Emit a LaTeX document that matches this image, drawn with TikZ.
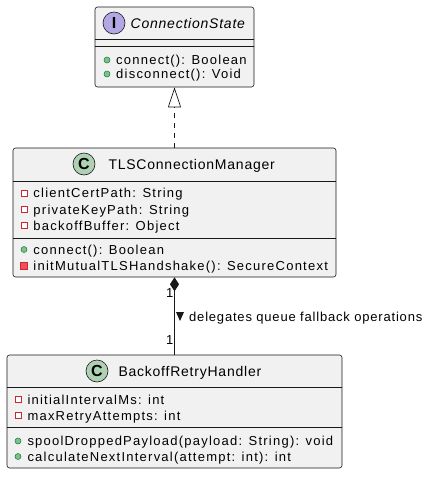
\documentclass[tikz,border=0pt]{standalone}
\usepackage{fontspec}
\setmainfont{Liberation Sans}
\newfontfamily\txtfont[LetterSpace=9.5]{Liberation Sans}
\newfontfamily\ttlfont[LetterSpace=5.5]{Liberation Sans}
\newfontfamily\lblfont[LetterSpace=6.2]{Liberation Sans}
\usetikzlibrary{arrows.meta}
\definecolor{boxfill}{HTML}{F1F1F1}
\definecolor{boxline}{HTML}{181818}
\definecolor{cfill}{HTML}{ADD1B2}
\definecolor{ifill}{HTML}{B4A7E5}
\definecolor{pubfill}{HTML}{84BE84}
\definecolor{publine}{HTML}{038048}
\definecolor{privline}{HTML}{C82930}
\definecolor{privfill}{HTML}{F24D5C}
\tikzset{
  umlbox/.style={draw=boxline, fill=boxfill, line width=0.6pt, rounded corners=2.5pt, inner sep=0pt},
  sepline/.style={draw=boxline, line width=0.6pt},
  txt/.style={anchor=base west, inner sep=0pt, font=\txtfont\fontsize{13}{15}\selectfont},
  lbl/.style={anchor=base west, inner sep=0pt, font=\lblfont\fontsize{13}{15}\selectfont},
  title/.style={anchor=base west, inner sep=0pt, font=\ttlfont\fontsize{14}{16}\selectfont},
  badge/.style={circle, draw=boxline, line width=0.6pt, minimum size=22pt, inner sep=0pt, font=\fontsize{16}{16}\selectfont\bfseries},
  pub/.style={circle, draw=publine, fill=pubfill, line width=0.5pt, minimum size=6pt, inner sep=0pt},
  privf/.style={rectangle, draw=privline, fill=white, line width=0.8pt, minimum size=6pt, inner sep=0pt},
  privm/.style={rectangle, draw=privline, fill=privfill, line width=0.5pt, minimum size=7pt, inner sep=0pt},
}
\begin{document}
\begin{tikzpicture}[x=1pt, y=-1pt]
\useasboundingbox (0,0) rectangle (441,483);

% ConnectionState
\node[umlbox, minimum width=159pt, minimum height=80pt] (cs) at (174.5,47) {};
\draw[sepline] (95,39) -- (254,39);
\draw[sepline] (95,46) -- (254,46);
\node[badge, fill=ifill] (csb) at (114,23) {I};
\node[title, font=\ttlfont\fontsize{14}{16}\selectfont\itshape] (csn) at (130.5,28) {ConnectionState};
\node[pub] (csm1i) at (107,60) {};
\node[txt] (csm1) at (116,64.5) {connect(): Boolean};
\node[pub] (csm2i) at (107,74) {};
\node[txt] (csm2) at (116,78.5) {disconnect(): Void};

% TLSConnectionManager
\node[umlbox, minimum width=323pt, minimum height=129pt] (tls) at (174.5,212.5) {};
\draw[sepline] (13,181) -- (336,181);
\draw[sepline] (13,238) -- (336,238);
\node[badge, fill=cfill] (tlsb) at (84,164) {C};
\node[title] (tlsn) at (108.3,169.5) {TLSConnectionManager};
\node[privf] (tlsa1i) at (24,193) {};
\node[txt] (tlsa1) at (33.3,197.5) {clientCertPath: String};
\node[privf] (tlsa2i) at (24,209.5) {};
\node[txt] (tlsa2) at (33.3,214) {privateKeyPath: String};
\node[privf] (tlsa3i) at (24,225.5) {};
\node[txt] (tlsa3) at (33.3,230) {backoffBuffer: Object};
\node[pub] (tlsm1i) at (24,249.5) {};
\node[txt] (tlsm1) at (33.3,254) {connect(): Boolean};
\node[privm] (tlsm2i) at (24,265.5) {};
\node[txt] (tlsm2) at (33.3,270) {initMutualTLSHandshake(): SecureContext};

% BackoffRetryHandler
\node[umlbox, minimum width=335pt, minimum height=113pt] (brh) at (174.5,411.5) {};
\draw[sepline] (7,387) -- (342,387);
\draw[sepline] (7,427) -- (342,427);
\node[badge, fill=cfill] (brhb) at (97,371) {C};
\node[title] (brhn) at (118.3,376) {BackoffRetryHandler};
\node[privf] (brha1i) at (18,399.5) {};
\node[txt] (brha1) at (27.3,404) {initialIntervalMs: int};
\node[privf] (brha2i) at (18,415.5) {};
\node[txt] (brha2) at (27.3,420) {maxRetryAttempts: int};
\node[pub] (brhm1i) at (18,441) {};
\node[txt] (brhm1) at (27.3,445.5) {spoolDroppedPayload(payload: String): void};
\node[pub] (brhm2i) at (18,456.5) {};
\node[txt] (brhm2) at (27.3,461) {calculateNextInterval(attempt: int): int};

% connectors
\draw[boxline, line width=0.7pt, dash pattern=on 5pt off 5pt,
  -{Triangle[open, length=20pt, width=13pt, fill=white]}] (tls.north) -- (cs.south);
\draw[boxline, line width=0.8pt,
  {Diamond[length=14pt, width=9pt, fill=boxline]}-] (tls.south) -- (brh.north);
\node[lbl] (m1) at (166,297.5) {1};
\node[lbl] (m2) at (166,344) {1};
\fill[boxline] (176,312) -- (184,312) -- (180,321) -- cycle;
\node[lbl] (lbl) at (189,321) {delegates queue fallback operations};
\end{tikzpicture}
\end{document}
